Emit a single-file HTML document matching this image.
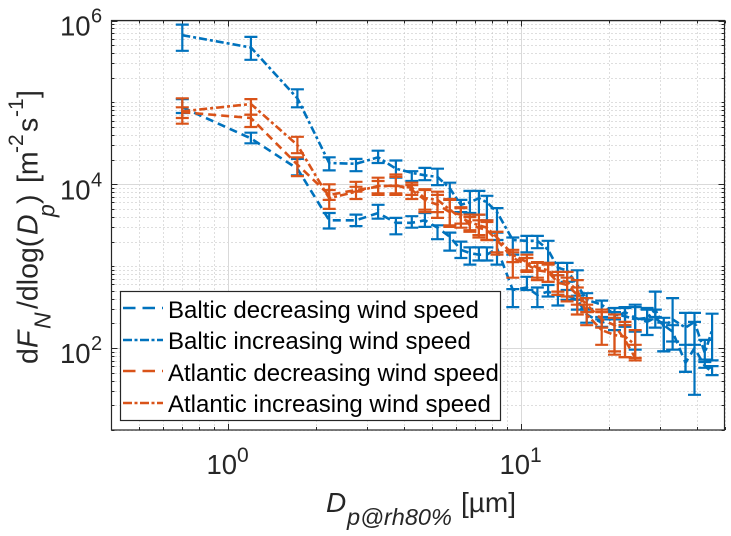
<!DOCTYPE html>
<html lang="en">
<head>
<meta charset="utf-8">
<title>Particle flux size distribution</title>
<style>
html,body{margin:0;padding:0;background:#fff;}
svg{display:block;font-family:"Liberation Sans",sans-serif;}
</style>
</head>
<body>
<svg id="chart" width="731" height="536" viewBox="0 0 731 536" xmlns="http://www.w3.org/2000/svg">
  <rect x="0" y="0" width="731" height="536" fill="#fff"/>
  <g id="grid"></g>
  <g id="series"></g>
  <g id="axes"></g>
  <g id="tick-labels"></g>

  <text y="512" fill="#262626" font-size="28"><tspan x="326" font-style="italic">D</tspan><tspan x="347" y="525" font-size="23.5" font-style="italic">p@rh80%</tspan><tspan x="461" y="512">[µm]</tspan></text>

  <text transform="translate(37.5,364) rotate(-90)" fill="#262626" font-size="28.5"><tspan x="0" y="0">d</tspan><tspan x="16" y="0" font-style="italic">F</tspan><tspan x="35" y="13" font-size="23" font-style="italic">N</tspan><tspan x="55" y="0">/dlog(</tspan><tspan x="129" y="0" font-style="italic">D</tspan><tspan x="147" y="17" font-size="23" font-style="italic">p</tspan><tspan x="160" y="0">)</tspan><tspan x="181" y="0">[m</tspan><tspan x="211" y="-14.5" font-size="21">-2</tspan><tspan x="232" y="0">s</tspan><tspan x="247" y="-14.5" font-size="21">-1</tspan><tspan x="266" y="0">]</tspan></text>

  <g id="legend">
    <rect x="120.5" y="291.5" width="380" height="129" fill="#fff" stroke="#262626" stroke-width="1.2"/>
    <g>
      <line x1="123" x2="163" y1="308" y2="308" stroke="#0072BD" stroke-width="2.5" stroke-dasharray="12.5 7"/>
      <text x="168" y="318" font-size="24" fill="#000">Baltic decreasing wind speed</text>
    </g>
    <g>
      <line x1="123" x2="163" y1="340" y2="340" stroke="#0072BD" stroke-width="2.5" stroke-dasharray="9 2.5 3 2.5"/>
      <text x="168" y="349" font-size="24" fill="#000">Baltic increasing wind speed</text>
    </g>
    <g>
      <line x1="123" x2="163" y1="371" y2="371" stroke="#D95319" stroke-width="2.5" stroke-dasharray="12.5 7"/>
      <text x="168" y="381" font-size="24" fill="#000">Atlantic decreasing wind speed</text>
    </g>
    <g>
      <line x1="123" x2="163" y1="403" y2="403" stroke="#D95319" stroke-width="2.5" stroke-dasharray="9 2.5 3 2.5"/>
      <text x="168" y="412" font-size="24" fill="#000">Atlantic increasing wind speed</text>
    </g>
  </g>
</svg>
<script>
// Particle diameter bins (µm)
var balticDiameters = [0.7,1.2,1.73,2.22,2.74,3.26,3.75,4.25,4.71,5.2,5.73,6.25,6.71,7.2,7.67,8.3,9.4,10.5,11.4,12.4,13.4,14.4,15.6,16.8,18.9,20.9,22.7,24.6,27,28.8,30.8,33,36.5,39.2,42.5,45];
var atlanticDiameters = [0.7,1.2,1.73,2.22,2.74,3.26,3.75,4.25,4.71,5.2,5.73,6.25,6.71,7.2,7.67,8.3,9.4,10.5,11.4,12.4,13.4,14.4,15.6,16.8,18.9,20.9,22.7,24.6];

// All flux values below are log10(dF/dlogDp)
var balticDecreasing = [4.94,4.56,4.19,3.56,3.56,3.65,3.53,3.53,3.56,3.47,3.36,3.20,3.16,3.14,3.14,3.22,2.71,2.74,2.65,2.69,2.64,2.64,2.59,2.41,2.31,2.37,2.44,2.37,2.32,2.37,2.28,2.20,1.82,2.00,1.78,1.71];
var balticDecreasingUpper = [5.04,4.63,4.31,3.65,3.63,3.75,3.59,3.61,3.65,3.50,3.41,3.30,3.23,3.23,3.23,3.32,2.72,2.87,2.74,2.77,2.65,2.71,2.64,2.48,2.35,2.44,2.49,2.53,2.47,2.47,2.37,2.28,2.04,2.32,1.86,1.78];
var balticDecreasingLower = [4.87,4.50,4.11,3.46,3.49,3.58,3.39,3.47,3.48,3.33,3.19,3.10,3.02,3.07,3.07,3.02,2.50,2.71,2.50,2.63,2.52,2.59,2.47,2.31,2.26,2.22,2.28,2.20,2.16,2.25,1.96,2.08,1.71,1.43,1.76,1.67];

var balticIncreasing = [5.82,5.67,5.05,4.26,4.25,4.33,4.19,4.14,4.11,4.09,3.95,3.75,3.78,3.83,3.78,3.66,3.32,3.31,3.31,3.20,2.98,2.95,2.77,2.59,2.53,2.41,2.39,2.35,2.37,2.47,2.26,2.35,2.25,2.32,1.94,2.22];
var balticIncreasingUpper = [5.95,5.80,5.16,4.33,4.31,4.41,4.29,4.16,4.20,4.19,4.02,3.81,3.92,3.92,3.86,3.71,3.35,3.37,3.37,3.31,3.04,3.04,2.95,2.67,2.58,2.49,2.50,2.50,2.49,2.69,2.31,2.61,2.43,2.43,2.10,2.42];
var balticIncreasingLower = [5.63,5.52,4.94,4.17,4.16,4.26,4.08,4.04,4.05,3.99,3.81,3.66,3.65,3.63,3.56,3.41,3.14,3.17,3.22,3.04,2.89,2.81,2.59,2.47,2.38,2.35,2.26,1.98,2.35,2.38,1.96,1.98,1.71,2.04,1.83,1.85];

var atlanticDecreasing = [4.88,4.81,4.24,3.87,3.93,3.97,3.99,3.93,3.81,3.75,3.66,3.63,3.50,3.47,3.44,3.32,3.10,3.02,2.95,2.93,2.80,2.77,2.65,2.53,2.35,2.28,2.10,1.88];
var atlanticDecreasingUpper = [4.94,4.85,4.33,3.93,3.97,4.04,4.12,3.99,3.93,3.87,3.81,3.72,3.60,3.56,3.54,3.42,3.17,3.10,3.04,3.02,2.89,2.86,2.74,2.61,2.44,2.41,2.32,2.04];
var atlanticDecreasingLower = [4.74,4.70,4.10,3.81,3.91,3.89,3.87,3.87,3.69,3.59,3.50,3.52,3.42,3.35,3.32,3.14,3.05,2.93,2.83,2.81,2.69,2.63,2.53,2.44,2.25,1.96,1.89,1.85];

var atlanticIncreasing = [4.89,4.98,4.48,3.83,3.91,3.98,3.98,3.96,3.83,3.81,3.69,3.59,3.54,3.50,3.47,3.35,3.14,3.05,2.98,2.95,2.83,2.81,2.71,2.41,2.22,2.16,2.14,2.04];
var atlanticIncreasingUpper = [5.05,5.04,4.58,4.00,4.03,4.08,4.09,4.02,3.94,3.91,3.82,3.71,3.63,3.63,3.56,3.42,3.20,3.14,3.05,3.04,2.93,2.93,2.83,2.53,2.47,2.37,2.28,2.22];
var atlanticIncreasingLower = [4.81,4.85,4.38,3.70,3.82,3.87,3.89,3.82,3.66,3.66,3.48,3.47,3.44,3.38,3.32,3.17,2.86,2.95,2.86,2.81,2.65,2.57,2.41,2.28,2.04,1.92,1.89,1.88];

// Axis tick exponents
var xMajorExponents = [0, 1];
var yMajorExponents = [2, 4, 6];
var yLabelExponents = [2, 4, 6];
var minorMultipliers = [2,3,4,5,6,7,8,9];
var xDomain = [0.4, 50];
var yDomain = [1, 6];

var NS = 'http://www.w3.org/2000/svg';
var plot = {left: 111.5, right: 724.5, top: 20.5, bottom: 430};
var xUnit = 293;
var yUnit = 81.9;
var x0 = 227.7;

function xScale(v) { return x0 + xUnit * Math.log10(v); }
function yScale(logV) { return plot.bottom - (logV - yDomain[0]) * yUnit; }

function make(tag, attrs, parent) {
  var el = document.createElementNS(NS, tag);
  for (var k in attrs) { el.setAttribute(k, attrs[k]); }
  parent.appendChild(el);
  return el;
}

var gridG = document.getElementById('grid');
var axesG = document.getElementById('axes');
var labelsG = document.getElementById('tick-labels');

function minorXValues() {
  var out = [];
  for (var e = -1; e <= 1; e++) {
    minorMultipliers.forEach(function (m) {
      var v = m * Math.pow(10, e);
      if (v >= xDomain[0] && v <= xDomain[1]) { out.push(v); }
    });
  }
  return out;
}
function minorYLogs() {
  var out = [];
  for (var e = yDomain[0]; e < yDomain[1]; e++) {
    [1].concat(minorMultipliers).forEach(function (m) {
      var lv = e + Math.log10(m);
      if (yMajorExponents.indexOf(lv) < 0) { out.push(lv); }
    });
  }
  return out;
}

// minor grid
minorXValues().forEach(function (v) {
  var px = Math.round(xScale(v)) + 0.5;
  var l = make('line', {x1: px, x2: px, y1: plot.top, y2: plot.bottom, stroke: '#bdbdbd', 'stroke-width': 1, 'stroke-dasharray': '1 3'}, gridG);
  
  
  var t1 = make('line', {x1: px, x2: px, y1: plot.bottom, y2: plot.bottom - 3, stroke: '#262626', 'stroke-width': 1}, axesG);
  
  
  var t2 = make('line', {x1: px, x2: px, y1: plot.top, y2: plot.top + 3, stroke: '#262626', 'stroke-width': 1}, axesG);
  
  
});
minorYLogs().forEach(function (lv) {
  var py = Math.round(yScale(lv)) + 0.5;
  var l = make('line', {x1: plot.left, x2: plot.right, y1: py, y2: py, stroke: '#bdbdbd', 'stroke-width': 1, 'stroke-dasharray': '1 3'}, gridG);
  
  
  var t1 = make('line', {x1: plot.left, x2: plot.left + 3, y1: py, y2: py, stroke: '#262626', 'stroke-width': 1}, axesG);
  
  
  var t2 = make('line', {x1: plot.right, x2: plot.right - 3, y1: py, y2: py, stroke: '#262626', 'stroke-width': 1}, axesG);
  
  
});

// major grid and ticks
xMajorExponents.forEach(function (e) {
  var px = Math.round(xScale(Math.pow(10, e))) + 0.5;
  var l = make('line', {x1: px, x2: px, y1: plot.top, y2: plot.bottom, stroke: '#d9d9d9', 'stroke-width': 1}, gridG);
  
  
  var t1 = make('line', {x1: px, x2: px, y1: plot.bottom, y2: plot.bottom - 6, stroke: '#262626', 'stroke-width': 1}, axesG);
  
  
  var t2 = make('line', {x1: px, x2: px, y1: plot.top, y2: plot.top + 6, stroke: '#262626', 'stroke-width': 1}, axesG);
  
  
  var txt = make('text', {x: px - 22, y: 474, 'font-size': 27.5, fill: '#262626'}, labelsG);
  
  
  txt.appendChild(document.createTextNode('10'));
  var sup = make('tspan', {x: px + 8.5, y: 462, 'font-size': 21}, txt);
  sup.appendChild(document.createTextNode(String(e)));
});
yMajorExponents.forEach(function (e) {
  var py = Math.round(yScale(e)) + 0.5;
  var l = make('line', {x1: plot.left, x2: plot.right, y1: py, y2: py, stroke: '#d9d9d9', 'stroke-width': 1}, gridG);
  
  
  var t1 = make('line', {x1: plot.left, x2: plot.left + 6, y1: py, y2: py, stroke: '#262626', 'stroke-width': 1}, axesG);
  
  
  var t2 = make('line', {x1: plot.right, x2: plot.right - 6, y1: py, y2: py, stroke: '#262626', 'stroke-width': 1}, axesG);
  
  
});
yLabelExponents.forEach(function (e) {
  var py = yScale(e);
  var txt = make('text', {x: 60, y: py + 15, 'font-size': 27.5, fill: '#262626'}, labelsG);
  
  
  txt.appendChild(document.createTextNode('10'));
  var sup = make('tspan', {x: 91, y: py + 2, 'font-size': 20}, txt);
  sup.appendChild(document.createTextNode(String(e)));
});

// axis box
var box = make('rect', {x: plot.left, y: plot.top, width: plot.right - plot.left, height: plot.bottom - plot.top, fill: 'none', stroke: '#262626', 'stroke-width': 1.2}, axesG);



// series
var seriesG = document.getElementById('series');
function drawSeries(name, xs, ys, upper, lower, color, dash) {
  var g = make('g', {}, seriesG);
  
  
  var pts = xs.map(function (x, i) { return xScale(x).toFixed(1) + ',' + yScale(ys[i]).toFixed(1); }).join(' ');
  var line = make('polyline', {points: pts, fill: 'none', stroke: color, 'stroke-width': 2.6, 'stroke-dasharray': dash}, g);
  
  
  xs.forEach(function (x, i) {
    var px = xScale(x);
    var yU = yScale(upper[i]);
    var yL = yScale(lower[i]);
    var p = 'M' + px.toFixed(1) + ' ' + yU.toFixed(1) + 'V' + yL.toFixed(1) +
      'M' + (px - 6.5).toFixed(1) + ' ' + yU.toFixed(1) + 'H' + (px + 6.5).toFixed(1) +
      'M' + (px - 6.5).toFixed(1) + ' ' + yL.toFixed(1) + 'H' + (px + 6.5).toFixed(1);
    var bar = make('path', {d: p, fill: 'none', stroke: color, 'stroke-width': 2.2}, g);
    
    
  });
}
var BLUE = '#0072BD';
var ORANGE = '#D95319';
var DASHED = '8 5';
var DASHDOT = '8 3 3 3';
drawSeries('baltic-decreasing-series', balticDiameters, balticDecreasing, balticDecreasingUpper, balticDecreasingLower, BLUE, DASHED);
drawSeries('baltic-increasing-series', balticDiameters, balticIncreasing, balticIncreasingUpper, balticIncreasingLower, BLUE, DASHDOT);
drawSeries('atlantic-decreasing-series', atlanticDiameters, atlanticDecreasing, atlanticDecreasingUpper, atlanticDecreasingLower, ORANGE, DASHED);
drawSeries('atlantic-increasing-series', atlanticDiameters, atlanticIncreasing, atlanticIncreasingUpper, atlanticIncreasingLower, ORANGE, DASHDOT);
</script>
</body>
</html>
